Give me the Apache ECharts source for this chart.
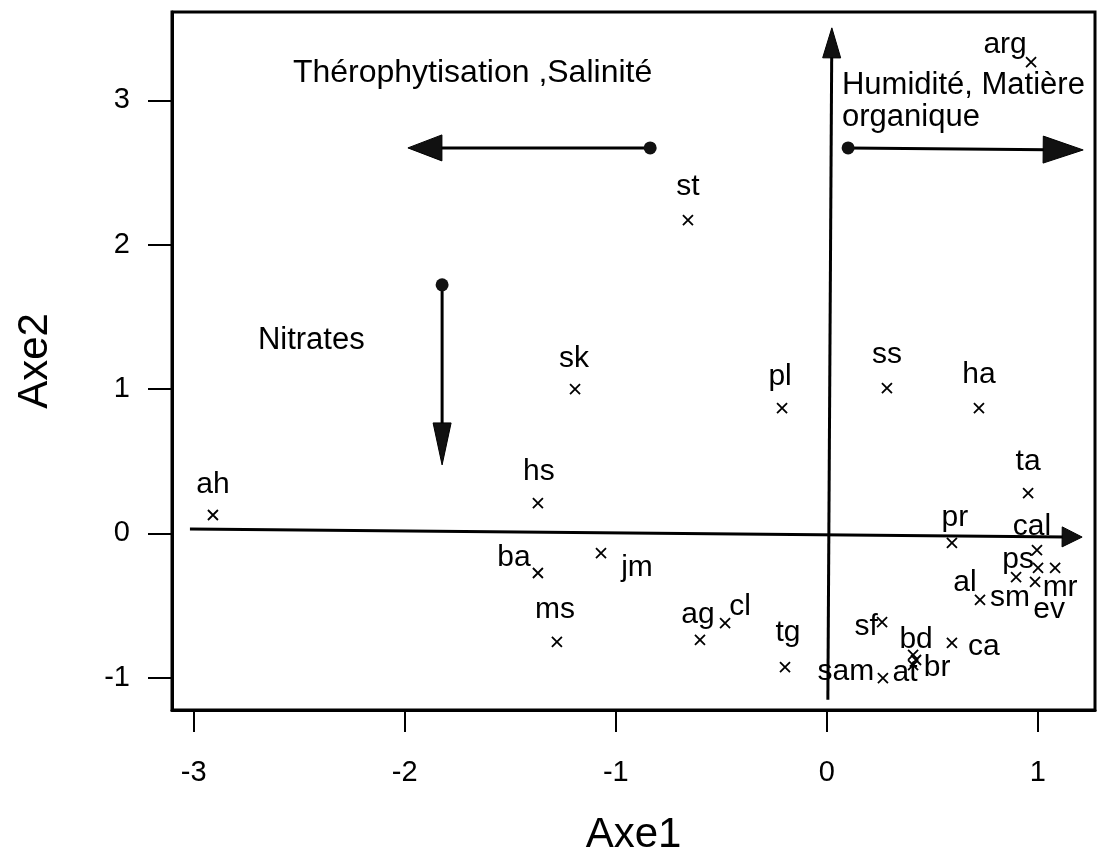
<!DOCTYPE html>
<html>
<head>
<meta charset="utf-8">
<title>Axe1 / Axe2</title>
<script src="https://cdn.jsdelivr.net/npm/echarts@6/dist/echarts.min.js"></script>
<style>
  html, body { margin: 0; padding: 0; background: #fff; }
  #chart { width: 1097px; height: 853px; }
</style>
</head>
<body>
<div id="chart"></div>
<script>
// espèces (noms, coordonnées sur Axe1 / Axe2)
var names = ['ah','hs','sk','st','pl','ss','ha','ta','pr','cal','ps','al','sm','mr','ev',
             'sf','bd','at','br','ca','sam','tg','cl','ag','ms','ba','jm','arg'];
var axe1 = [-2.909,-1.369,-1.193,-0.658,-0.212,0.285,0.721,0.954,0.593,0.996,0.897,0.726,1.001,1.082,0.987,
            0.262,0.409,0.409,0.423,0.593,0.266,-0.198,-0.482,-0.601,-1.279,-1.369,-1.070,0.968];
var axe2 = [0.127,0.210,1.000,2.171,0.868,1.007,0.868,0.279,-0.067,-0.116,-0.303,-0.462,-0.240,-0.240,-0.337,
            -0.615,-0.843,-0.913,-0.878,-0.760,-1.003,-0.927,-0.622,-0.739,-0.753,-0.275,-0.137,3.266];

var xTicks = [-3, -2, -1, 0, 1];
var yTicks = [-1, 0, 1, 2, 3];

// flèches (origine -> pointe), en unités des axes
var arrowFrom = [[-0.837, 2.671], [0.101, 2.671], [-1.823, 1.722], [0.005, -1.154], [-3.018, 0.030]];
var arrowTo   = [[-1.985, 2.671], [1.215, 2.657], [-1.823, 0.474], [0.024, 3.503], [1.210, -0.026]];
var arrowDot  = [1, 1, 1, 0, 0];

// textes des gradients
var notes  = ['Thérophytisation ,Salinité', 'Humidité, Matière', 'organique', 'Nitrates'];
var noteX  = [-2.530, 0.072, 0.072, -2.696];
var noteY  = [3.190, 3.106, 2.885, 1.340];

// placement des étiquettes autour des croix (style)
var labelOffset = {
  ah:[0,-30], hs:[1,-31], sk:[-1,-30], st:[0,-33], pl:[-2,-31], ss:[0,-33], ha:[0,-33],
  ta:[0,-31], pr:[3,-25], cal:[-5,-23], ps:[2,-17], al:[-15,-17], sm:[-28,30], mr:[5,20],
  ev:[14,28], sf:[-16,5], bd:[3,-15], at:[-8,8], br:[21,8], ca:[32,4], sam:[-37,-6],
  tg:[3,-34], cl:[15,-16], ag:[-2,-25], ms:[-2,-32], ba:[-24,-15], jm:[36,15], arg:[-26,-17]
};
var headLen   = [34, 40, 42, 30, 20];
var headWidth = [26, 27, 18, 18, 20];
var noteSize  = [32, 31, 31, 31];

var font = 'Liberation Sans, Arial, sans-serif';

var chart = echarts.init(document.getElementById('chart'));

var points = names.map(function (n, i) {
  return { name: n, value: [axe1[i], axe2[i]] };
});
var arrows = arrowFrom.map(function (f, i) {
  return [f[0], f[1], arrowTo[i][0], arrowTo[i][1], i];
});
var noteData = notes.map(function (t, i) { return [noteX[i], noteY[i], i]; });

var option = {
  animation: false,
  backgroundColor: '#fff',
  grid: {
    left: 172, right: 2, top: 12, bottom: 143,
    show: true, borderColor: '#000', borderWidth: 3,
    outerBoundsMode: 'none'
  },
  xAxis: {
    type: 'value',
    min: -3.103, max: 1.271,
    name: 'Axe1', nameLocation: 'middle', nameGap: 104,
    nameTextStyle: { fontSize: 42, fontFamily: font, color: '#000' },
    axisLine: { show: true, onZero: false, lineStyle: { color: '#000', width: 3 } },
    axisTick: { show: true, inside: false, length: 22, customValues: xTicks,
                lineStyle: { color: '#000', width: 2 } },
    axisLabel: { customValues: xTicks, margin: 48, fontSize: 29, fontFamily: font, color: '#000' },
    splitLine: { show: false }
  },
  yAxis: {
    type: 'value',
    min: -1.2245, max: 3.613,
    name: 'Axe2', nameLocation: 'middle', nameGap: 116, nameRotate: 90,
    nameTextStyle: { fontSize: 42, fontFamily: font, color: '#000' },
    axisLine: { show: true, onZero: false, lineStyle: { color: '#000', width: 3 } },
    axisTick: { show: true, inside: false, length: 24, customValues: yTicks,
                lineStyle: { color: '#000', width: 2 } },
    axisLabel: { customValues: yTicks, margin: 42, fontSize: 29, fontFamily: font, color: '#000' },
    splitLine: { show: false }
  },
  series: [
    {
      type: 'custom',
      coordinateSystem: 'cartesian2d',
      clip: false,
      silent: true,
      encode: { x: [0, 2], y: [1, 3] },
      data: arrows,
      renderItem: function (params, api) {
        var i = api.value(4);
        var f = api.coord([api.value(0), api.value(1)]);
        var t = api.coord([api.value(2), api.value(3)]);
        var dx = t[0] - f[0], dy = t[1] - f[1];
        var L = Math.sqrt(dx * dx + dy * dy);
        var ux = dx / L, uy = dy / L;
        var hl = headLen[i], hw = headWidth[i] / 2;
        var bx = t[0] - ux * hl, by = t[1] - uy * hl;
        var children = [
          { type: 'line', shape: { x1: f[0], y1: f[1], x2: bx + ux * 4, y2: by + uy * 4 },
            style: { stroke: '#000', lineWidth: 3 } },
          { type: 'polygon', shape: { points: [[t[0], t[1]], [bx - uy * hw, by + ux * hw], [bx + uy * hw, by - ux * hw]] },
            style: { fill: '#111', stroke: '#000', lineWidth: 1 } }
        ];
        if (arrowDot[i]) {
          children.push({ type: 'circle', shape: { cx: f[0], cy: f[1], r: 6.5 }, style: { fill: '#111' } });
        }
        return { type: 'group', children: children };
      },
      z: 3
    },
    {
      type: 'custom',
      coordinateSystem: 'cartesian2d',
      clip: false,
      silent: true,
      data: noteData,
      renderItem: function (params, api) {
        var k = api.value(2);
        var p = api.coord([api.value(0), api.value(1)]);
        return {
          type: 'text', x: p[0], y: p[1],
          style: { text: notes[k], fontSize: noteSize[k], fontFamily: font, fill: '#000',
                   align: 'left', verticalAlign: 'middle' }
        };
      },
      z: 4
    },
    {
      type: 'scatter',
      data: points,
      symbol: 'path://M0,0L10,10M0,10L10,0',
      symbolSize: 10,
      itemStyle: { color: 'transparent', borderColor: '#000', borderWidth: 1.8, opacity: 1 },
      label: {
        show: true, position: 'inside', formatter: '{b}',
        fontSize: 30, fontFamily: font, color: '#000', textBorderWidth: 0, opacity: 1
      },
      labelLayout: function (params) {
        var off = labelOffset[names[params.dataIndex]];
        return { dx: off[0], dy: off[1], hideOverlap: false };
      },
      z: 5
    }
  ]
};

chart.setOption(option);
</script>
</body>
</html>
